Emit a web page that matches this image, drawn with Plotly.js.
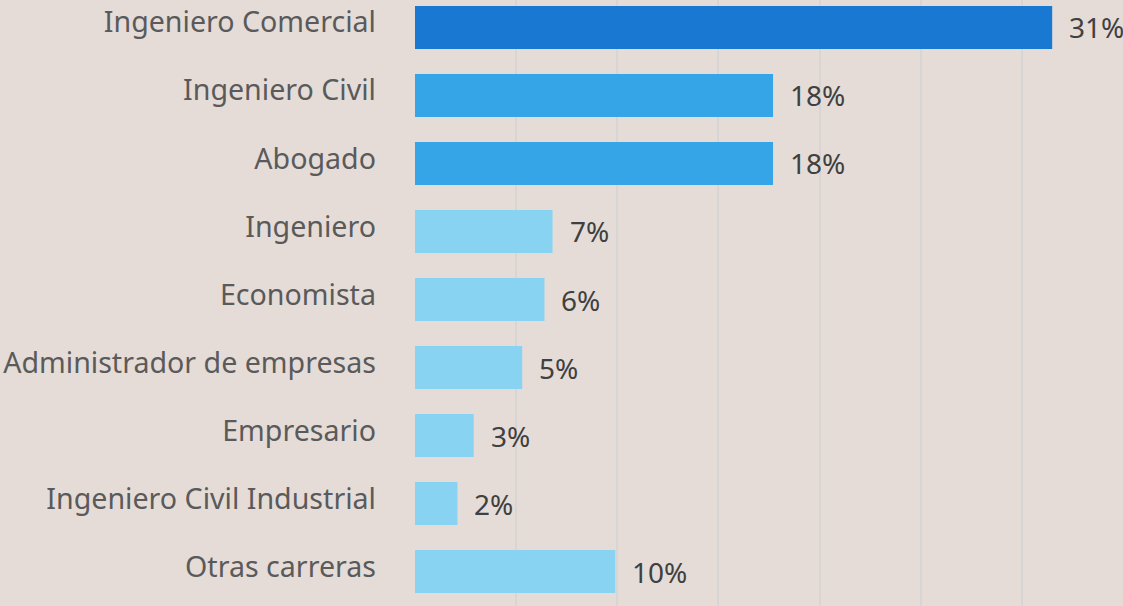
<!DOCTYPE html>
<html>
<head>
<meta charset="utf-8">
<script src="https://cdn.plot.ly/plotly-3.0.1.min.js"></script>
<style>html,body{margin:0;padding:0;background:#e5dcd8;}#chart{width:1123px;height:606px;}</style>
</head>
<body>
<div id="chart"></div>
<script>
var categories = ["Ingeniero Comercial","Ingeniero Civil","Abogado","Ingeniero","Economista","Administrador de empresas","Empresario","Ingeniero Civil Industrial","Otras carreras"];
var values = [31.5, 17.7, 17.7, 6.8, 6.4, 5.3, 2.9, 2.1, 9.9];
var valueLabels = ["31%","18%","18%","7%","6%","5%","3%","2%","10%"];
var barColors = ["#1878d2","#35a5e8","#35a5e8","#88d3f2","#88d3f2","#88d3f2","#88d3f2","#88d3f2","#88d3f2"];

var trace = {
  type: 'bar',
  orientation: 'h',
  y: categories,
  x: values,
  marker: {color: barColors},
  hoverinfo: 'none'
};

var annotations = values.map(function(v, i){
  return {x: v, y: categories[i], xref: 'x', yref: 'y', text: valueLabels[i],
    showarrow: false, xanchor: 'left', yanchor: 'middle', xshift: 15,
    font: {family: 'Noto Sans', size: 28, color: '#404040'}};
});

var layout = {
  width: 1123, height: 606,
  margin: {l: 415, r: 0, t: 0, b: 0, pad: 0},
  paper_bgcolor: '#e5dcd8',
  plot_bgcolor: '#e5dcd8',
  bargap: 0.368,
  showlegend: false,
  xaxis: {range: [0, 35], dtick: 5, tick0: 0, showgrid: true, gridcolor: '#d9d5d5', gridwidth: 2,
    zeroline: false, showticklabels: false, showline: false, ticks: '', fixedrange: true},
  yaxis: {type: 'category', range: [8.507, -0.404], showgrid: false, zeroline: false, showline: false,
    ticks: '', ticklabelstandoff: 38, ticklabelshift: 5,
    tickfont: {family: 'Noto Sans', size: 28.6, color: '#5a5a5a'}},
  annotations: annotations
};

Plotly.newPlot('chart', [trace], layout, {displayModeBar: false, staticPlot: true});
</script>
</body>
</html>
